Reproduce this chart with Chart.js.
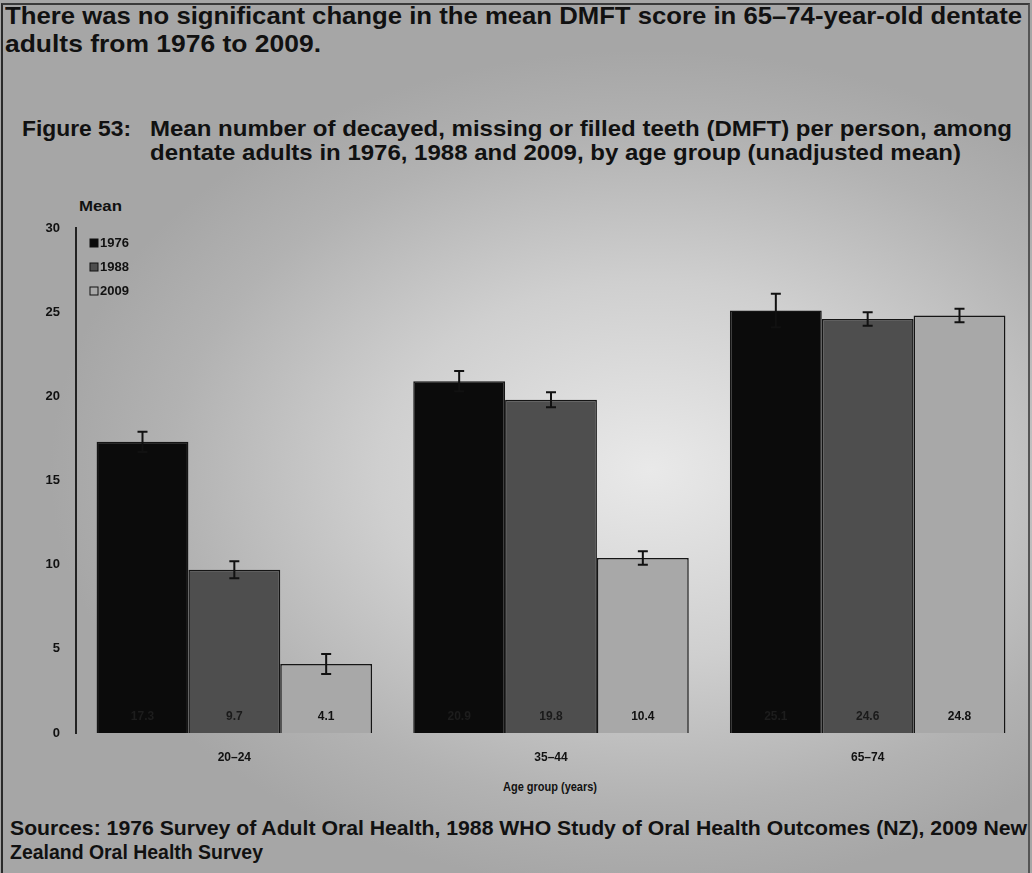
<!DOCTYPE html>
<html>
<head>
<meta charset="utf-8">
<script src="https://cdn.jsdelivr.net/npm/chart.js@4/dist/chart.umd.min.js"></script>
<style>
  html, body { margin: 0; padding: 0; }
  body {
    width: 1032px; height: 873px; position: relative; overflow: hidden;
    background: radial-gradient(ellipse 600px 420px at 650px 470px, #e9e9e9 0%, #cfcfcf 45%, #b2b2b2 80%, #a6a6a6 100%);
    font-family: "Liberation Sans", Arial, sans-serif;
    color: #111;
  }
  .frame {
    position: absolute; left: 1px; top: 3px; right: 2px; bottom: -4px;
    border-left: 2px solid #2a2a2a; border-top: 2px solid #3a3a3a; border-right: 2px solid #555;
    pointer-events: none;
  }
  .t { position: absolute; white-space: nowrap; font-weight: bold; transform-origin: 0 0; line-height: 1; }
  canvas { position: absolute; left: 0; top: 0; }
</style>
</head>
<body>
<div class="frame"></div>
<div class="t fit" style="left:5px; top:4px; font-size:24px;" data-w="1017">There was no significant change in the mean DMFT score in 65–74-year-old dentate</div>
<div class="t fit" style="left:5px; top:32px; font-size:24px;" data-w="316">adults from 1976 to 2009.</div>
<div class="t fit" style="left:22px; top:118px; font-size:22px;" data-w="109">Figure 53:</div>
<div class="t fit" style="left:150px; top:118px; font-size:22px;" data-w="862">Mean number of decayed, missing or filled teeth (DMFT) per person, among</div>
<div class="t fit" style="left:150px; top:142px; font-size:22px;" data-w="811">dentate adults in 1976, 1988 and 2009, by age group (unadjusted mean)</div>
<div class="t fit" style="left:79px; top:199px; font-size:14px;" data-w="43">Mean</div>
<div class="t fit" style="left:503px; top:780px; font-size:13px;" data-w="94">Age group (years)</div>
<div class="t fit" style="left:10px; top:817px; font-size:21px;" data-w="1017">Sources: 1976 Survey of Adult Oral Health, 1988 WHO Study of Oral Health Outcomes (NZ), 2009 New</div>
<div class="t fit" style="left:10px; top:841px; font-size:21px;" data-w="253">Zealand Oral Health Survey</div>
<canvas id="chart" width="1032" height="873"></canvas>
<script>
// Age groups and survey years
const categories = ['20–24', '35–44', '65–74'];
const surveyYears = ['1976', '1988', '2009'];

// Mean DMFT per person (unadjusted)
const mean1976 = [17.3, 20.9, 25.1];
const mean1988 = [9.7, 19.8, 24.6];
const mean2009 = [4.1, 10.4, 24.8];

// Half-widths of the 95% confidence intervals
const ci1976 = [0.6, 0.6, 1.0];
const ci1988 = [0.5, 0.45, 0.4];
const ci2009 = [0.6, 0.4, 0.4];

// Value labels printed at the foot of each bar
const labels1976 = ['17.3', '20.9', '25.1'];
const labels1988 = ['9.7', '19.8', '24.6'];
const labels2009 = ['4.1', '10.4', '24.8'];

const yTickValues = [0, 5, 10, 15, 20, 25, 30];

// Squeeze heading lines to their set widths
document.querySelectorAll('.fit').forEach(el => {
  const target = parseFloat(el.dataset.w);
  const w = el.getBoundingClientRect().width;
  if (w > 0) el.style.transform = 'scaleX(' + (target / w) + ')';
});

const fills = ['#0b0b0b', '#4e4e4e', '#a8a8a8'];
const labelColours = ['#1d1d1d', '#1a1a1a', '#111111'];
const fontStack = '"Liberation Sans", Arial, sans-serif';

const barPlugin = {
  id: 'barExtras',
  afterDatasetsDraw(chart) {
    const ctx = chart.ctx;
    const y = chart.scales.y;
    const area = chart.chartArea;
    chart.data.datasets.forEach((ds, i) => {
      const meta = chart.getDatasetMeta(i);
      meta.data.forEach((bar, j) => {
        const v = ds.data[j], e = ds.ci[j];
        const top = y.getPixelForValue(v + e), bot = y.getPixelForValue(v - e);
        ctx.save();
        ctx.strokeStyle = '#111';
        ctx.lineWidth = 2;
        ctx.beginPath();
        ctx.moveTo(bar.x, top); ctx.lineTo(bar.x, bot);
        ctx.moveTo(bar.x - 5, top); ctx.lineTo(bar.x + 5, top);
        ctx.moveTo(bar.x - 5, bot); ctx.lineTo(bar.x + 5, bot);
        ctx.stroke();
        // value label at the foot of the bar
        ctx.fillStyle = labelColours[i];
        ctx.font = 'bold 12px ' + fontStack;
        ctx.textAlign = 'center';
        ctx.textBaseline = 'middle';
        ctx.fillText(ds.valueLabels[j], bar.x, area.bottom - 16);
        ctx.restore();
      });
    });
    // legend in the upper left of the plot
    ctx.save();
    chart.data.datasets.forEach((ds, i) => {
      const ly = 243 + i * 24;
      ctx.fillStyle = ds.backgroundColor;
      ctx.strokeStyle = '#111';
      ctx.lineWidth = 1;
      ctx.fillRect(90, ly - 4, 8, 8);
      ctx.strokeRect(90, ly - 4, 8, 8);
      ctx.fillStyle = '#111';
      ctx.font = 'bold 13px ' + fontStack;
      ctx.textAlign = 'left';
      ctx.textBaseline = 'middle';
      ctx.fillText(ds.label, 100, ly);
    });
    ctx.restore();
  }
};

const seriesValues = [mean1976, mean1988, mean2009];
const seriesCi = [ci1976, ci1988, ci2009];
const seriesLabels = [labels1976, labels1988, labels2009];

new Chart(document.getElementById('chart'), {
  type: 'bar',
  data: {
    labels: categories,
    datasets: surveyYears.map((yr, i) => ({
      label: yr,
      data: seriesValues[i],
      ci: seriesCi[i],
      valueLabels: seriesLabels[i],
      backgroundColor: fills[i],
      borderColor: '#151515',
      borderWidth: 1.5,
      categoryPercentage: 0.87,
      barPercentage: 1.0
    }))
  },
  options: {
    responsive: false,
    animation: false,
    events: [],
    layout: { padding: { left: 0, right: 6, top: 228, bottom: 0 } },
    plugins: { legend: { display: false }, tooltip: { enabled: false } },
    scales: {
      y: {
        min: 0, max: 30,
        afterFit(s) { s.width = 76; },
        afterBuildTicks(s) { s.ticks = yTickValues.map(v => ({ value: v })); },
        grid: { display: false, drawTicks: false },
        border: { display: true, color: '#222', width: 2 },
        ticks: { padding: 16, color: '#111', font: { family: fontStack, size: 13, weight: 'bold' } }
      },
      x: {
        afterFit(s) { s.height = 140; },
        grid: { display: false, drawTicks: false },
        border: { display: false },
        ticks: { padding: 17, color: '#111', font: { family: fontStack, size: 12, weight: 'bold' } }
      }
    }
  },
  plugins: [barPlugin]
});
</script>
</body>
</html>
